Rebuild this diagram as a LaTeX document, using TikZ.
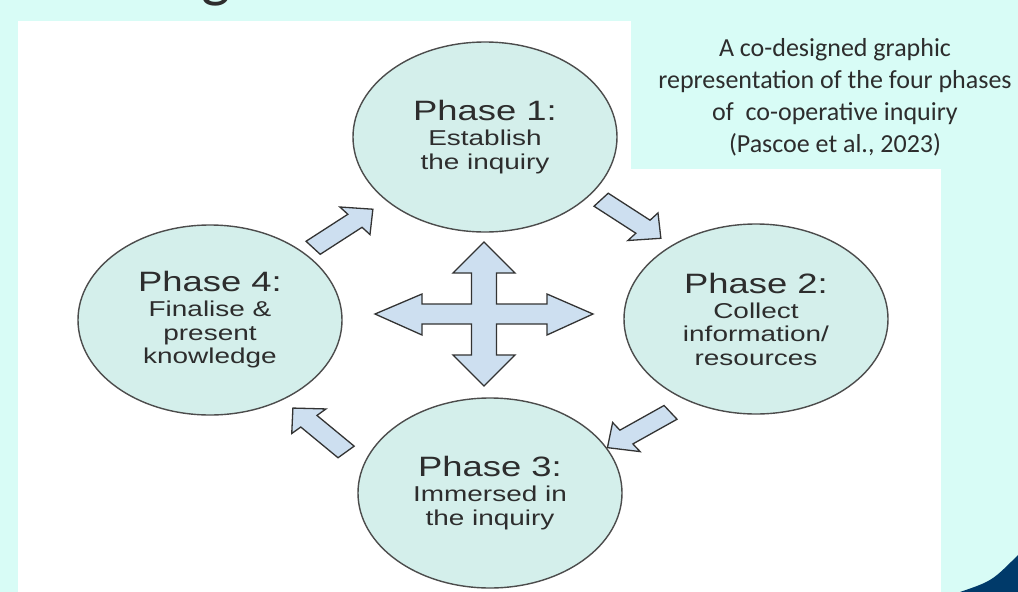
\documentclass[tikz,border=0pt]{standalone}
\usepackage{fontspec}
\setmainfont{Liberation Sans}
\newfontfamily\phasefont{Liberation Sans}[FakeStretch=1.3]
\newfontfamily\notefont{Carlito}
\usepackage{xcolor}
\usetikzlibrary{positioning, calc, shapes.geometric}

\definecolor{slidecyan}{RGB}{216,252,246}
\definecolor{phasefill}{RGB}{212,239,235}
\definecolor{arrowfill}{RGB}{205,223,240}
\definecolor{cornerblue}{RGB}{0,58,106}
\definecolor{inktext}{RGB}{45,45,45}

\newcommand\phasetitle{\fontsize{28}{28}\selectfont}

\begin{document}
\begin{tikzpicture}[x=1pt, y=-1pt,
    phase/.style={ellipse, draw=black!70, line width=1.4pt, fill=phasefill,
        minimum width=264pt, minimum height=190pt, inner sep=0pt, align=center,
        text=inktext, font=\phasefont\fontsize{21.5}{23.5}\selectfont},
    arrowline/.style={draw=black!80, line width=1.3pt, fill=arrowfill, line join=miter},
    blockarrow/.pic={\draw[arrowline] (-30,8.5) -- (12,8.5) -- (12,18) -- (30,0)
        -- (12,-18) -- (12,-8.5) -- (-30,-8.5) -- cycle;}]
    \useasboundingbox (0,0) rectangle (1018,592);
    \clip (0,0) rectangle (1018,592);
    % slide background
    \fill[slidecyan] (0,0) rectangle (1018,592);
    \fill[white] (18,21) rectangle (941,592);
    \fill[slidecyan] (631,21) rectangle (941,169);
    \fill[cornerblue] (960,592) .. controls (992,581) .. (1018,555) -- (1018,592) -- cycle;
    \node[font=\notefont\fontsize{62}{62}\selectfont, text=inktext, anchor=base] (heading) at (216,-5) {g};
    \node[font=\notefont\fontsize{26}{32}\selectfont, text=inktext, align=center] (caption) at (835,97)
        {A co-designed graphic\\representation of the four phases\\of~ co-operative inquiry\\(Pascoe et al., 2023)};

    % the four phases
    \node[phase] (establish) at (485,137) {{\phasetitle Phase 1:}\\[1.5pt]Establish\\the inquiry};
    \node[phase] (collect) at (756,319) {{\phasetitle Phase 2:}\\[1.5pt]Collect\\information/\\resources};
    \node[phase] (immersed) at (490,493) {{\phasetitle Phase 3:}\\[1.5pt]Immersed in\\the inquiry};
    \node[phase] (finalise) at (210,320) {{\phasetitle Phase 4:}\\[1.5pt]Finalise \&\\present\\knowledge};

    % arrows round the cycle
    \pic[xscale=1.3, rotate=40] at (343,228.5) {blockarrow};
    \pic[xscale=1.3, rotate=-40] at (631,219) {blockarrow};
    \pic[xscale=1.3, rotate=-144] at (639,430) {blockarrow};
    \pic[xscale=1.3, rotate=133] at (319.5,430) {blockarrow};

    % four-way arrow in the middle
    \draw[arrowline] (484,242) -- (515,273) -- (496.5,273) -- (496.5,304) -- (547,304)
        -- (547,294) -- (593,314) -- (547,335) -- (547,324) -- (496.5,324) -- (496.5,355)
        -- (515,355) -- (484,386) -- (453,355) -- (471.5,355) -- (471.5,324) -- (422,324)
        -- (422,335) -- (375,314) -- (422,294) -- (422,304) -- (471.5,304) -- (471.5,273)
        -- (453,273) -- cycle;
\end{tikzpicture}
\end{document}
